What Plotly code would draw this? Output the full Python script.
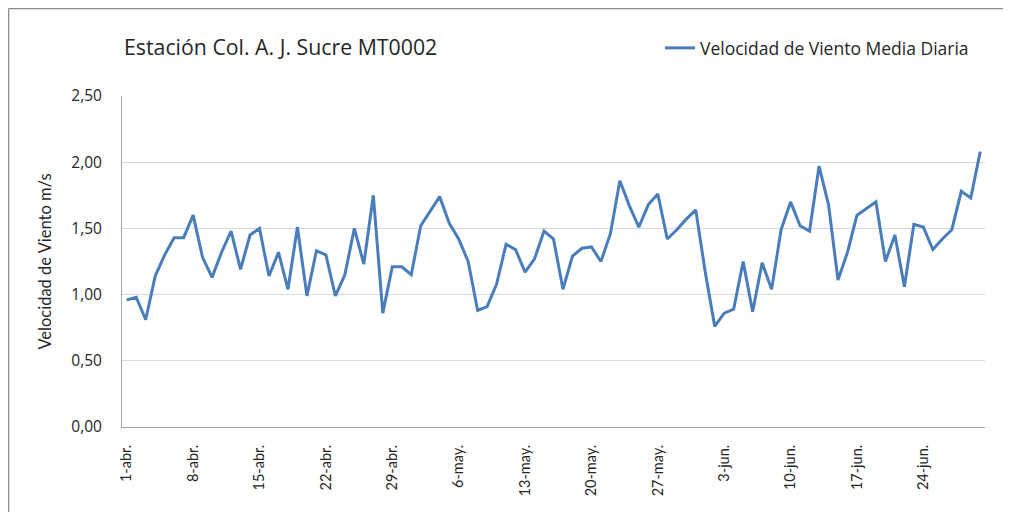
import plotly.graph_objects as go

# ---- data ----
months = ["abr.", "may.", "jun."]
month_days = [30, 31, 30]
dates = [f"{d}-{m}" for m, n in zip(months, month_days) for d in range(1, n + 1)]

wind_speed = [
    0.96, 0.98, 0.81, 1.14, 1.30, 1.43, 1.43, 1.60, 1.28, 1.13,
    1.32, 1.48, 1.19, 1.45, 1.50, 1.14, 1.32, 1.04, 1.51, 0.99,
    1.33, 1.30, 0.99, 1.15, 1.50, 1.23, 1.75, 0.86, 1.21, 1.21,
    1.15, 1.52, 1.63, 1.74, 1.54, 1.42, 1.25, 0.88, 0.91, 1.08,
    1.38, 1.34, 1.17, 1.27, 1.48, 1.42, 1.04, 1.29, 1.35, 1.36,
    1.25, 1.46, 1.86, 1.67, 1.51, 1.68, 1.76, 1.42, 1.49, 1.57,
    1.64, 1.17, 0.76, 0.86, 0.89, 1.25, 0.87, 1.24, 1.04, 1.49,
    1.70, 1.52, 1.48, 1.97, 1.68, 1.11, 1.32, 1.60, 1.65, 1.70,
    1.25, 1.45, 1.06, 1.53, 1.51, 1.34, 1.42, 1.49, 1.78, 1.73,
    2.08,
]

tick_dates = dates[::7]
y_ticks = [0, 0.5, 1.0, 1.5, 2.0, 2.5]
y_tick_text = ["0,00", "0,50", "1,00", "1,50", "2,00", "2,50"]

title_text = "Estación Col. A. J. Sucre MT0002"
series_name = "Velocidad de Viento Media Diaria"
y_title = "Velocidad de Viento m/s"

# ---- layout geometry (screen pixels; page body adds an 8px offset) ----
OFF = 8
W, H = 1011, 512
L, R, T, B = 122 - OFF, 985 - OFF, 96 - OFF, 427 - OFF
pw, ph = R - L, B - T


def px_x(sx):
    return (sx - OFF - L) / pw


def px_y(sy):
    return (B - (sy - OFF)) / ph


FONT = "Lato, 'Open Sans', sans-serif"
FONT2 = "'Open Sans', Lato, sans-serif"
TXT = "#262626"

fig = go.Figure()
fig.add_trace(go.Scatter(
    x=dates, y=wind_speed, mode="lines", name=series_name,
    line=dict(color="#4A7EBB", width=3),
    showlegend=True,
))

fig.update_layout(
    width=W, height=H,
    margin=dict(l=L, r=W - R, t=T, b=H - B, pad=0),
    paper_bgcolor="white", plot_bgcolor="white",
    font=dict(family=FONT, color=TXT),
    title=dict(text=title_text, x=(124 - OFF) / W, xanchor="left",
               y=1 - (48 - OFF) / H, yanchor="middle",
               font=dict(family=FONT2, size=21.3, color=TXT)),
    legend=dict(x=px_x(660), y=px_y(48), xanchor="left", yanchor="middle",
                font=dict(family=FONT2, size=17.5, color=TXT),
                bgcolor="rgba(0,0,0,0)", itemwidth=30),
    showlegend=True,
    xaxis=dict(
        type="category", range=[-0.5, len(dates) - 0.5],
        tickmode="array", tickvals=tick_dates, ticktext=tick_dates,
        tickangle=-90, tickfont=dict(family=FONT, size=14.5, color=TXT),
        showgrid=False, showline=True, linecolor="#A6A6A6", linewidth=1,
        ticks="outside", ticklen=11, tickcolor="rgba(0,0,0,0)",
        zeroline=False,
    ),
    yaxis=dict(
        range=[0, 2.5], tickmode="array", tickvals=y_ticks, ticktext=y_tick_text,
        tickfont=dict(family=FONT2, size=15.5, color=TXT),
        showgrid=True, gridcolor="#D9D9D9", gridwidth=1,
        showline=True, linecolor="#A6A6A6", linewidth=1,
        ticks="outside", ticklen=16, tickcolor="rgba(0,0,0,0)",
        zeroline=False,
        title=dict(text=y_title, font=dict(family=FONT, size=16.5, color=TXT),
                   standoff=15),
    ),
    shapes=[
        dict(type="line", xref="paper", yref="paper",
             x0=px_x(8.5), x1=px_x(1003), y0=px_y(8.5), y1=px_y(8.5),
             line=dict(color="#8C8C8C", width=1.5)),
        dict(type="line", xref="paper", yref="paper",
             x0=px_x(8.5), x1=px_x(8.5), y0=px_y(8.5), y1=px_y(530),
             line=dict(color="#8C8C8C", width=1.5)),
    ],
)

fig.write_html("out.html")
